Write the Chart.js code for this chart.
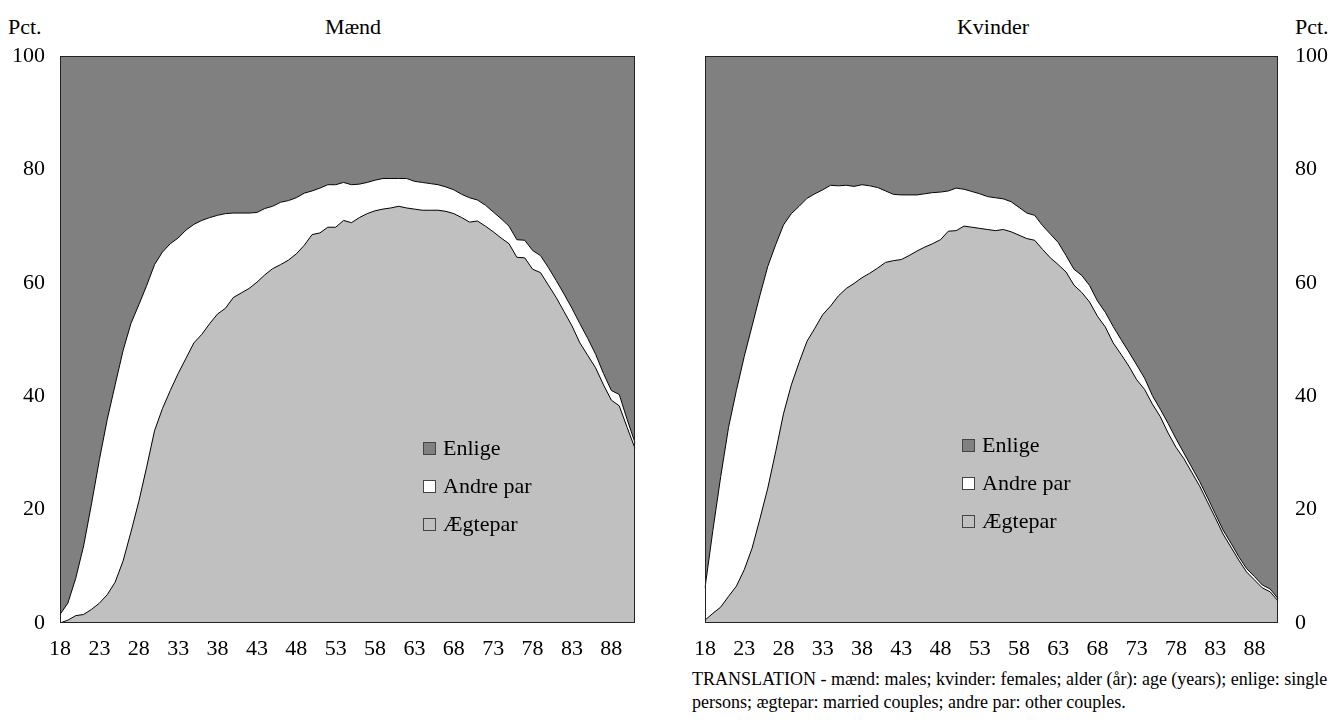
<!DOCTYPE html>
<html>
<head>
<meta charset="utf-8">
<script src="https://cdn.jsdelivr.net/npm/chart.js@4.4.0/dist/chart.umd.min.js"></script>
<style>
body { margin: 0; background: #fff; font-family: "Liberation Serif", "Times New Roman", serif; }
#wrap { position: relative; width: 1334px; height: 720px; overflow: hidden; }
canvas { position: absolute; top: 0; }
.lbl { position: absolute; font-size: 22px; line-height: 22px; color: #000; white-space: nowrap; }
.mid { transform: translateX(-50%); }
#note { position: absolute; left: 692px; top: 668px; font-size: 18px; line-height: 23px; color: #000; white-space: nowrap; }
</style>
</head>
<body>
<div id="wrap">
    <div class="lbl" style="left:8px; top:16px;">Pct.</div>
    <div class="lbl mid" style="left:353px; top:16px;">Mænd</div>
    <div class="lbl mid" style="left:993px; top:16px;">Kvinder</div>
    <div class="lbl" style="left:1295px; top:16px;">Pct.</div>
    <canvas id="maend" width="667" height="662" style="left:0;"></canvas>
    <canvas id="kvinder" width="667" height="662" style="left:667px;"></canvas>
    <div id="note">TRANSLATION - mænd: males; kvinder: females; alder (år): age (years); enlige: single<br>persons; ægtepar: married couples; andre par: other couples.</div>
</div>
<script>
const ages = [18, 19, 20, 21, 22, 23, 24, 25, 26, 27, 28, 29, 30, 31, 32, 33, 34, 35, 36, 37,
    38, 39, 40, 41, 42, 43, 44, 45, 46, 47, 48, 49, 50, 51, 52, 53, 54, 55, 56, 57,
    58, 59, 60, 61, 62, 63, 64, 65, 66, 67, 68, 69, 70, 71, 72, 73, 74, 75, 76, 77,
    78, 79, 80, 81, 82, 83, 84, 85, 86, 87, 88, 89, 90, 91];
const yTicks = [0, 20, 40, 60, 80, 100];

// Mænd
const maendAegtepar = [0, 0.5, 1.3, 1.5, 2.4, 3.5, 5.0, 7.2, 10.9, 16.0,
    21.4, 27.5, 33.9, 37.8, 41.0, 44.0, 46.7, 49.4, 50.9, 52.8,
    54.5, 55.5, 57.4, 58.2, 59.0, 60.1, 61.4, 62.5, 63.2, 64.0,
    65.1, 66.6, 68.5, 68.8, 69.8, 69.8, 71.0, 70.6, 71.5, 72.2,
    72.7, 73.0, 73.2, 73.5, 73.2, 73.0, 72.8, 72.8, 72.8, 72.6,
    72.2, 71.5, 70.7, 70.9, 70.0, 69.0, 67.9, 66.9, 64.5, 64.4,
    62.4, 61.8, 59.6, 57.4, 54.9, 52.4, 49.4, 47.2, 45.0, 42.0,
    39.3, 38.3, 34.5, 30.8];
const maendAndrePar = [1.5, 3.0, 6.6, 12.1, 18.6, 25.3, 30.9, 34.8, 37.1, 36.8,
    34.7, 32.0, 29.3, 27.6, 25.9, 23.9, 22.6, 20.9, 20.1, 18.7,
    17.4, 16.7, 14.9, 14.1, 13.3, 12.3, 11.7, 11.0, 11.0, 10.5,
    9.9, 9.2, 7.7, 7.9, 7.5, 7.5, 6.7, 6.7, 5.9, 5.5,
    5.4, 5.4, 5.2, 4.9, 5.2, 4.9, 4.9, 4.7, 4.5, 4.3,
    4.2, 4.1, 4.3, 3.7, 3.7, 3.5, 3.4, 3.1, 3.1, 3.1,
    3.3, 3.0, 3.1, 3.0, 3.1, 3.1, 3.4, 3.0, 2.4, 2.0,
    1.7, 2.0, 1.4, 1.0];
const maendEnlige = [98.5, 96.5, 92.1, 86.4, 79.0, 71.2, 64.1, 58.0, 52.0, 47.2,
    43.9, 40.5, 36.8, 34.6, 33.1, 32.1, 30.7, 29.7, 29.0, 28.5,
    28.1, 27.8, 27.7, 27.7, 27.7, 27.6, 26.9, 26.5, 25.8, 25.5,
    25.0, 24.2, 23.8, 23.3, 22.7, 22.7, 22.3, 22.7, 22.6, 22.3,
    21.9, 21.6, 21.6, 21.6, 21.6, 22.1, 22.3, 22.5, 22.7, 23.1,
    23.6, 24.4, 25.0, 25.4, 26.3, 27.5, 28.7, 30.0, 32.4, 32.5,
    34.3, 35.2, 37.3, 39.6, 42.0, 44.5, 47.2, 49.8, 52.6, 56.0,
    59.0, 59.7, 64.1, 68.2];

// Kvinder
const kvinderAegtepar = [0.5, 1.7, 2.8, 4.7, 6.5, 9.4, 13.2, 18.4, 23.8, 30.2,
    36.9, 42.0, 46.0, 49.7, 52.0, 54.4, 55.9, 57.7, 59.0, 59.9,
    60.9, 61.7, 62.6, 63.6, 63.9, 64.1, 64.8, 65.6, 66.3, 66.9,
    67.6, 69.1, 69.2, 70.0, 69.8, 69.6, 69.4, 69.2, 69.4, 69.0,
    68.4, 67.8, 67.5, 65.9, 64.4, 63.2, 61.9, 59.6, 58.3, 56.6,
    54.1, 52.2, 49.4, 47.4, 45.3, 42.9, 41.2, 38.6, 36.4, 33.5,
    31.0, 29.0, 26.6, 24.2, 21.4, 18.6, 15.7, 13.4, 11.1, 9.0,
    7.6, 6.2, 5.5, 3.9];
const kvinderAndrePar = [5.7, 14.6, 23.0, 29.8, 34.5, 37.6, 39.2, 39.4, 39.1, 36.5,
    33.3, 30.2, 27.5, 25.2, 23.7, 22.0, 21.3, 19.4, 18.2, 17.1,
    16.4, 15.4, 14.2, 12.6, 11.7, 11.4, 10.7, 9.9, 9.4, 9.0,
    8.4, 7.1, 7.5, 6.5, 6.3, 6.1, 5.8, 5.8, 5.4, 5.3,
    4.9, 4.5, 4.4, 4.2, 4.2, 3.9, 2.9, 2.8, 3.0, 2.9,
    2.7, 2.6, 2.9, 2.6, 2.5, 2.6, 2.0, 1.5, 1.3, 1.7,
    1.5, 1.0, 0.9, 0.8, 0.8, 0.7, 0.7, 0.7, 0.6, 0.6,
    0.6, 0.5, 0.5, 0.4];
const kvinderEnlige = [93.8, 83.7, 74.2, 65.5, 59.0, 53.0, 47.6, 42.2, 37.1, 33.3,
    29.8, 27.8, 26.5, 25.1, 24.3, 23.6, 22.8, 22.9, 22.8, 23.0,
    22.7, 22.9, 23.2, 23.8, 24.4, 24.5, 24.5, 24.5, 24.3, 24.1,
    24.0, 23.8, 23.3, 23.5, 23.9, 24.3, 24.8, 25.0, 25.2, 25.7,
    26.7, 27.7, 28.1, 29.9, 31.4, 32.9, 35.2, 37.6, 38.7, 40.5,
    43.2, 45.2, 47.7, 50.0, 52.2, 54.5, 56.8, 59.9, 62.3, 64.8,
    67.5, 70.0, 72.5, 75.0, 77.8, 80.7, 83.6, 85.9, 88.3, 90.4,
    91.8, 93.3, 94.0, 95.7];

const FONT = { family: '"Liberation Serif", "Times New Roman", serif', size: 22 };

// ramme rundt om plotområdet
const framePlugin = {
    id: 'frame',
    afterDatasetsDraw(chart) {
        const { ctx, chartArea: a } = chart;
        ctx.save();
        ctx.strokeStyle = '#222';
        ctx.lineWidth = 1;
        ctx.strokeRect(a.left + 0.5, a.top + 0.5, a.right - a.left - 1, a.bottom - a.top - 1);
        ctx.restore();
    }
};

// legende inde i plotområdet, omvendt rækkefølge
const areaLegend = {
    id: 'areaLegend',
    afterDatasetsDraw(chart, args, opts) {
        const { ctx, chartArea } = chart;
        const sets = chart.data.datasets.slice().reverse();
        ctx.save();
        ctx.font = FONT.size + 'px ' + FONT.family;
        ctx.textBaseline = 'middle';
        sets.forEach((ds, i) => {
            const x = chartArea.left + opts.x;
            const y = chartArea.top + opts.y + i * opts.gap;
            ctx.fillStyle = ds.backgroundColor;
            ctx.fillRect(x, y - 6, 13, 13);
            ctx.strokeStyle = '#444';
            ctx.lineWidth = 1;
            ctx.strokeRect(x + 0.5, y - 5.5, 12, 12);
            ctx.fillStyle = '#000';
            ctx.fillText(ds.label, x + 20, y + 1);
        });
        ctx.restore();
    }
};

function makeChart(id, aegtepar, andrePar, enlige, side, legendPos) {
    const ctx = document.getElementById(id).getContext('2d');
    return new Chart(ctx, {
        type: 'line',
        data: {
            labels: ages,
            datasets: [{
                label: 'Ægtepar',
                data: aegtepar,
                backgroundColor: '#c0c0c0',
                borderColor: '#000',
                borderWidth: 1,
                fill: 'origin'
            }, {
                label: 'Andre par',
                data: andrePar,
                backgroundColor: '#ffffff',
                borderColor: '#000',
                borderWidth: 1,
                fill: '-1'
            }, {
                label: 'Enlige',
                data: enlige,
                backgroundColor: '#808080',
                borderColor: '#000',
                borderWidth: 1,
                fill: '-1'
            }]
        },
        options: {
            responsive: false,
            animation: false,
            events: [],
            elements: { point: { radius: 0 }, line: { tension: 0 } },
            layout: {
                padding: side === 'left'
                    ? { top: 56, right: 32, left: 0, bottom: 0 }
                    : { top: 56, right: 0, left: 38, bottom: 0 }
            },
            scales: {
                x: {
                    type: 'category',
                    offset: false,
                    grid: { display: false, drawTicks: false },
                    border: { display: false },
                    afterFit(scale) { scale.height = 39; },
                    ticks: {
                        autoSkip: false,
                        maxRotation: 0,
                        padding: 13,
                        color: '#000',
                        font: FONT,
                        callback(val, i) { return i % 5 === 0 ? ages[i] : ''; }
                    }
                },
                y: {
                    stacked: true,
                    position: side,
                    min: 0,
                    max: 100,
                    grid: { display: false, drawTicks: false },
                    border: { display: false },
                    afterFit(scale) { scale.width = side === 'left' ? 60 : 56; },
                    afterBuildTicks(scale) { scale.ticks = yTicks.map(v => ({ value: v })); },
                    ticks: {
                        padding: side === 'left' ? 15 : 17,
                        color: '#000',
                        font: FONT
                    }
                }
            },
            plugins: {
                legend: { display: false },
                tooltip: { enabled: false },
                areaLegend: legendPos
            }
        },
        plugins: [framePlugin, areaLegend]
    });
}

makeChart('maend', maendAegtepar, maendAndrePar, maendEnlige, 'left', { x: 363, y: 392, gap: 38 });
makeChart('kvinder', kvinderAegtepar, kvinderAndrePar, kvinderEnlige, 'right', { x: 257, y: 389, gap: 38 });
</script>
</body>
</html>
